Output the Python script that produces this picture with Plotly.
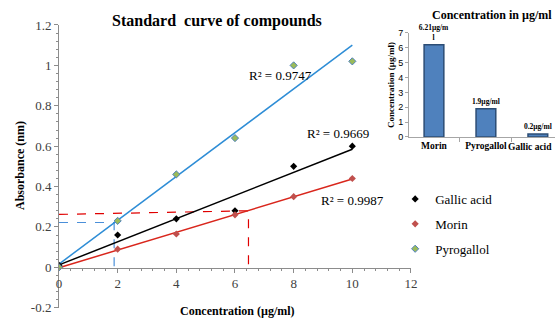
import numpy as np
import plotly.graph_objects as go

# ---- data ----
conc = [0, 2, 4, 6, 8, 10]
gallic = [0.01, 0.16, 0.24, 0.28, 0.50, 0.60]
morin = [0.0, 0.09, 0.165, 0.26, 0.35, 0.44]
pyrogallol = [0.0, 0.23, 0.46, 0.64, 1.00, 1.02]
r2_labels = {"Gallic acid": "R² = 0.9669", "Morin": "R² = 0.9987", "Pyrogallol": "R² = 0.9747"}

# guide lines (reading concentrations off the curves)
red_guide_x = [0, 6.46, 6.46]
red_guide_y = [0.262, 0.28, 0.0]
blue_guide_x = [0, 1.88, 1.88]
blue_guide_y = [0.222, 0.222, 0.0]

y_ticks = [-0.2, 0, 0.2, 0.4, 0.6, 0.8, 1.0, 1.2]
y_ticktext = ["-0.2", "0", "0.2", "0.4", "0.6", "0.8", "1", "1.2"]
x_ticks = [0, 2, 4, 6, 8, 10, 12]

bar_cats = ["Morin", "Pyrogallol", "Gallic acid"]
bar_vals = [6.21, 1.9, 0.2]
bar_text = ["6.21µg/m<br>l", "1.9µg/ml", "0.2µg/ml"]

SERIF = "Liberation Serif, Times New Roman, serif"
fig = go.Figure()

series = [
    ("Gallic acid", gallic, dict(color="black", size=5.5), "black"),
    ("Morin", morin, dict(color="#C0504D", size=5.5), "#D9261C"),
    ("Pyrogallol", pyrogallol, dict(color="#9BBB59", size=5.5, line=dict(color="#4F81BD", width=1)), "#2E8DD6"),
]

# guides first (underneath)
fig.add_trace(go.Scatter(x=red_guide_x, y=red_guide_y, mode="lines",
                         line=dict(color="#E00000", width=1.2, dash="dash"),
                         showlegend=False, hoverinfo="skip", xaxis="x", yaxis="y"))
fig.add_trace(go.Scatter(x=blue_guide_x, y=blue_guide_y, mode="lines",
                         line=dict(color="#4A8FD9", width=1.2, dash="dash"),
                         showlegend=False, hoverinfo="skip", xaxis="x", yaxis="y"))

for name, ys, mk, lc in series:
    slope, inter = np.polyfit(conc, ys, 1)
    xs = np.array([conc[0], conc[-1]])
    fig.add_trace(go.Scatter(x=xs, y=slope * xs + inter, mode="lines",
                             line=dict(color=lc, width=1.5), showlegend=False,
                             hoverinfo="skip", xaxis="x", yaxis="y"))

for i, (name, ys, mk, lc) in enumerate(series):
    fig.add_trace(go.Scatter(x=conc, y=ys, mode="markers", name=name,
                             marker=dict(symbol="diamond", **mk),
                             legendgroup=f"g{i}", xaxis="x", yaxis="y"))

# inset bar chart
fig.add_trace(go.Bar(x=bar_cats, y=bar_vals, text=bar_text, textposition="outside",
                     constraintext="none",
                     textfont=dict(family=SERIF, size=7.5, color="black", weight="bold"),
                     marker=dict(color="#4F81BD", line=dict(color="#2C4D75", width=1.5)),
                     width=0.38, showlegend=False, cliponaxis=False,
                     xaxis="x2", yaxis="y2"))

# last category label is drawn right-aligned at the edge so it stays visible
inset_ticktext = bar_cats[:-1] + [""]

axis_font = dict(family=SERIF, size=13, color="#404040")
fig.update_layout(
    width=555, height=320,
    margin=dict(l=0, r=0, t=0, b=0, autoexpand=False),
    paper_bgcolor="white", plot_bgcolor="white",
    xaxis=dict(domain=[0.1063, 0.7405], range=[0, 12], anchor="free", position=0.1634,
               tickvals=x_ticks, showline=True, linecolor="#8C8C8C", linewidth=1,
               ticks="outside", ticklen=4, tickcolor="#8C8C8C", automargin=False,
               minor=dict(dtick=0.4, ticks="outside", ticklen=2, tickcolor="#8C8C8C"),
               showgrid=False, zeroline=False, tickfont=axis_font),
    yaxis=dict(domain=[0.0384, 0.9219], range=[-0.2, 1.2], anchor="x", automargin=False,
               tickvals=y_ticks, ticktext=y_ticktext, showline=True, linecolor="#8C8C8C",
               ticks="outside", ticklen=4, tickcolor="#8C8C8C",
               minor=dict(dtick=0.04, ticks="outside", ticklen=2, tickcolor="#8C8C8C"),
               showgrid=False, zeroline=False, tickfont=axis_font),
    xaxis2=dict(domain=[0.737, 1.0], range=[-0.48, 2.33], anchor="y2", type="category",
                categoryorder="array", categoryarray=bar_cats,
                tickvals=bar_cats, ticktext=inset_ticktext,
                showline=True, linecolor="#A6A6A6", ticks="outside", ticklen=4,
                tickcolor="#A6A6A6", tickson="boundaries", showgrid=False, automargin=False,
                tickfont=dict(family=SERIF, size=9.5, color="black", weight="bold")),
    yaxis2=dict(domain=[0.572, 0.897], range=[0, 7], anchor="x2", dtick=1,
                showline=True, linecolor="#A6A6A6", ticks="outside", ticklen=3,
                tickcolor="#A6A6A6", showgrid=False, zeroline=False, automargin=False,
                tickfont=dict(family="Liberation Sans", size=9, color="black"),
                title=dict(text="Concentration (µg/ml)", standoff=2,
                           font=dict(family=SERIF, size=9, color="black", weight="bold"))),
    legend=dict(x=0.712, y=0.30, xanchor="left", yanchor="middle",
                font=dict(family=SERIF, size=13, color="black"),
                traceorder="grouped", tracegroupgap=5, bgcolor="rgba(0,0,0,0)"),
    showlegend=True,
)

annos = [
    dict(text="<b>Standard  curve of compounds</b>", x=217, y=21, size=16),
    dict(text="<b>Concentration (µg/ml)</b>", x=237, y=311, size=12),
    dict(text=r2_labels["Pyrogallol"], x=280, y=75, size=13),
    dict(text=r2_labels["Gallic acid"], x=338, y=133, size=13),
    dict(text=r2_labels["Morin"], x=352, y=200, size=13),
    dict(text="<b>Concentration in µg/ml</b>", x=492, y=15, size=12),
]
for a in annos:
    fig.add_annotation(text=a["text"], x=a["x"] / 555, y=1 - a["y"] / 320,
                       xref="paper", yref="paper", xanchor="center", yanchor="middle",
                       showarrow=False, font=dict(family=SERIF, size=a["size"], color="black"))
fig.add_annotation(text="<b>Absorbance (nm)</b>", x=20 / 555, y=1 - 166 / 320,
                   xref="paper", yref="paper", textangle=-90, showarrow=False,
                   xanchor="center", yanchor="middle",
                   font=dict(family=SERIF, size=12, color="black"))
fig.add_annotation(text=f"<b>{bar_cats[-1]}</b>", x=0.998, y=1 - 147 / 320,
                   xref="paper", yref="paper", xanchor="right", yanchor="middle",
                   showarrow=False, font=dict(family=SERIF, size=9.5, color="black"))

fig.write_html("out.html")
